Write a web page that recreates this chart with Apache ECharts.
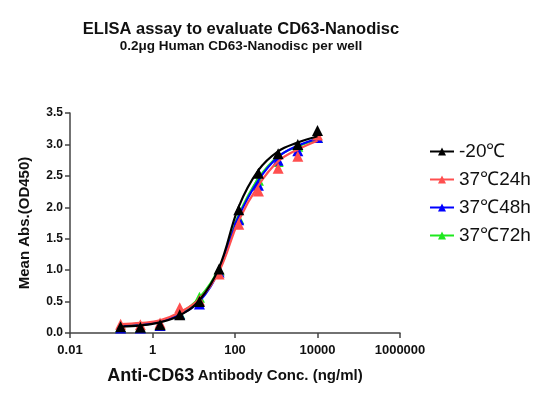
<!DOCTYPE html>
<html>
<head>
<meta charset="utf-8">
<script src="https://cdn.jsdelivr.net/npm/echarts@6/dist/echarts.min.js"></script>
<style>
  html, body { margin: 0; padding: 0; background: #fff; }
  #chart { width: 555px; height: 400px; }
</style>
</head>
<body>
<div id="chart"></div>
<script>
// antibody concentrations (ng/ml), 3-fold dilution
let conc = [0.169, 0.508, 1.524, 4.572, 13.72, 41.15, 123.5, 370.4, 1111, 3333, 10000]

let names = ['-20℃', '37℃24h', '37℃48h', '37℃72h']
let colors = ['#000000', '#ff4f4f', '#0000ff', '#1ee81e']

// measured points
let pts_m20 = [0.10, 0.09, 0.13, 0.29, 0.50, 1.02, 1.96, 2.54, 2.85, 3.00, 3.22]
let pts_24h = [0.14, 0.13, 0.16, 0.40, 0.52, 0.94, 1.73, 2.26, 2.62, 2.81, 3.15]
let pts_48h = [0.08, 0.08, 0.12, 0.30, 0.46, 0.97, 1.80, 2.35, 2.75, 2.90, 3.11]
let pts_72h = [0.09, 0.09, 0.14, 0.31, 0.57, 1.00, 1.82, 2.43, 2.73, 2.97, 3.11]

// fitted curve read at each concentration
let fit_m20 = [0.10, 0.12, 0.17, 0.28, 0.52, 1.04, 2.01, 2.59, 2.89, 3.03, 3.13]
let fit_24h = [0.14, 0.16, 0.20, 0.33, 0.54, 0.98, 1.79, 2.35, 2.73, 2.92, 3.06]
let fit_48h = [0.11, 0.13, 0.18, 0.29, 0.50, 1.00, 1.85, 2.43, 2.80, 2.98, 3.09]
let fit_72h = [0.12, 0.14, 0.19, 0.31, 0.56, 1.03, 1.88, 2.46, 2.81, 2.97, 3.08]

let xTicks = ['0.01', '1', '100', '10000', '1000000']

let pts = [pts_m20, pts_24h, pts_48h, pts_72h]
let fits = [fit_m20, fit_24h, fit_48h, fit_72h]
let font = 'Arial, "Liberation Sans", Helvetica, sans-serif'

function pairs(ys) {
  return conc.map((c, i) => [c, ys[i]])
}

let series = []
names.forEach((name, k) => {
  let z = 10 - k
  series.push({
    name: name,
    type: 'line',
    data: pairs(fits[k]),
    smooth: 0.4,
    symbol: 'triangle',
    symbolSize: 10,
    showSymbol: false,
    lineStyle: { color: colors[k], width: 2.2 },
    itemStyle: { color: colors[k] },
    z: z
  })
  series.push({
    name: name,
    type: 'scatter',
    data: pairs(pts[k]),
    symbol: 'triangle',
    symbolSize: 11,
    itemStyle: { color: colors[k], opacity: 1 },
    z: z
  })
})

const chart = echarts.init(document.getElementById('chart'))

chart.setOption({
  animation: false,
  textStyle: { fontFamily: font },
  title: {
    text: 'ELISA assay to evaluate CD63-Nanodisc',
    subtext: '0.2μg Human CD63-Nanodisc per well',
    left: 236,
    textAlign: 'center',
    top: 16,
    itemGap: 1,
    textStyle: { fontSize: 16.5, fontWeight: 'bold', color: '#111', fontFamily: font },
    subtextStyle: { fontSize: 13.5, fontWeight: 'bold', color: '#111', fontFamily: font }
  },
  legend: {
    orient: 'vertical',
    left: 424,
    top: 137,
    itemGap: 9,
    itemWidth: 24,
    itemHeight: 10,
    data: names,
    textStyle: { fontSize: 19, color: '#111', fontFamily: font }
  },
  grid: { left: 70, right: 155, top: 113, bottom: 67, containLabel: false },
  xAxis: {
    type: 'log',
    logBase: 100,
    min: 0.01,
    max: 1000000,
    name: '{a|Anti-CD63} {b|Antibody Conc. (ng/ml)}',
    nameLocation: 'middle',
    nameGap: 34,
    nameTextStyle: {
      rich: {
        a: { fontSize: 18, fontWeight: 'bold', color: '#111', fontFamily: font },
        b: { fontSize: 15, fontWeight: 'bold', color: '#111', fontFamily: font }
      }
    },
    axisLine: { lineStyle: { color: '#444', width: 1.5 } },
    axisTick: { show: true, inside: false, length: 5, lineStyle: { color: '#444', width: 1.5 } },
    minorTick: { show: false },
    splitLine: { show: false },
    axisLabel: {
      fontSize: 13, fontWeight: 'bold', color: '#111', margin: 11,
      formatter: (v, i) => xTicks[i]
    }
  },
  yAxis: {
    type: 'value',
    min: 0,
    max: 3.5,
    interval: 0.5,
    name: 'Mean Abs.(OD450)',
    nameLocation: 'middle',
    nameGap: 38,
    nameTextStyle: { fontSize: 15, fontWeight: 'bold', color: '#111', fontFamily: font },
    axisLine: { show: true, lineStyle: { color: '#444', width: 1.5 } },
    axisTick: { show: true, inside: false, length: 5, lineStyle: { color: '#444', width: 1.5 } },
    splitLine: { show: false },
    axisLabel: {
      fontSize: 12, fontWeight: 'bold', color: '#111', margin: 7,
      formatter: v => v.toFixed(1)
    }
  },
  series: series
})
</script>
</body>
</html>
